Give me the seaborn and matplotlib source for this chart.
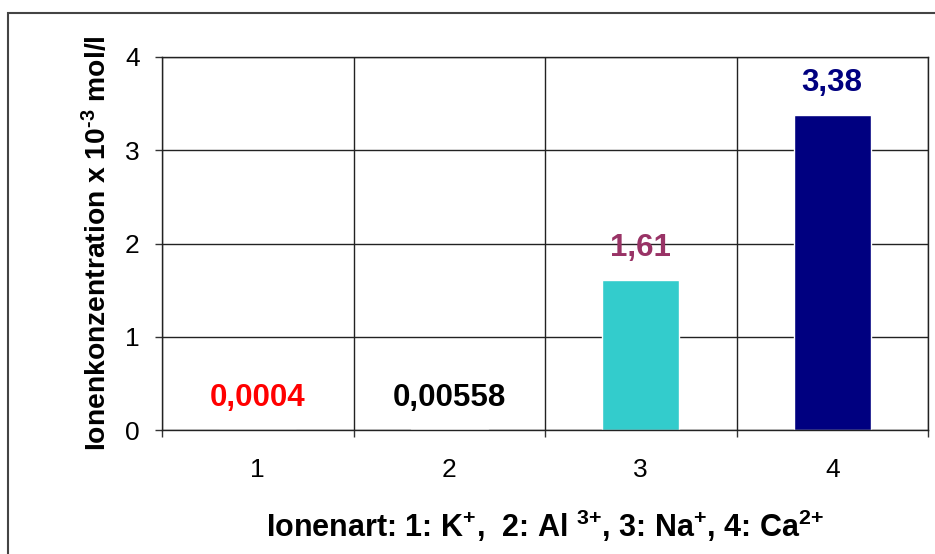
import matplotlib
matplotlib.use("Agg")
import matplotlib.pyplot as plt
from matplotlib.patches import Rectangle
from matplotlib.ticker import FixedLocator
import seaborn as sns
import pandas as pd

categories = ["1", "2", "3", "4"]
values = [0.0004, 0.00558, 1.61, 3.38]
value_labels = ["0,0004", "0,00558", "1,61", "3,38"]
bar_colors = ["#FF0000", "#006633", "#33CCCC", "#000080"]
label_colors = ["#FF0000", "#000000", "#993366", "#000080"]
y_ticks = [0, 1, 2, 3, 4]

sns.set_theme(style="white")
plt.rcParams["font.family"] = ["Liberation Sans", "DejaVu Sans"]
plt.rcParams["mathtext.fontset"] = "custom"
plt.rcParams["mathtext.rm"] = "Liberation Sans:bold"
plt.rcParams["mathtext.bf"] = "Liberation Sans:bold"
plt.rcParams["mathtext.it"] = "Liberation Sans:bold"
plt.rcParams["mathtext.default"] = "bf"
plt.rcParams["text.color"] = "black"
plt.rcParams["axes.labelcolor"] = "black"

df = pd.DataFrame({"cat": categories, "val": values})

fig = plt.figure(figsize=(9.35, 5.54), dpi=100)
ax = fig.add_axes([162/935, 1-430/554, (928-162)/935, (430-57)/554])

sns.barplot(data=df, x="cat", y="val", hue="cat", palette=bar_colors,
            width=0.4, legend=False, ax=ax, saturation=1)

ax.set_xlim(-0.5, 3.5)
ax.set_ylim(0, 4)
ax.set_yticks(y_ticks)
ax.set_yticklabels([str(t) for t in y_ticks])
ax.set_xticks(range(len(categories)))
ax.set_xticklabels(categories)
ax.xaxis.set_minor_locator(FixedLocator([-0.5, 0.5, 1.5, 2.5, 3.5]))
ax.tick_params(axis="x", which="major", length=0, pad=20, labelsize=19, colors="black")
ax.tick_params(axis="x", which="minor", length=5, width=1, direction="out", bottom=True, color="#333333")
ax.tick_params(axis="y", which="major", length=5, width=1, direction="out", left=True,
               pad=11, labelsize=19, colors="black", color="#333333")
for lab in ax.get_xticklabels() + ax.get_yticklabels():
    lab.set_color("black")

ax.grid(False)
ax.yaxis.grid(True, color="#222222", lw=1)
ax.xaxis.grid(True, which="minor", color="#222222", lw=1)
ax.set_axisbelow(True)
for s in ax.spines.values():
    s.set_color("#222222")
    s.set_linewidth(1)

for i, (v, lab, c) in enumerate(zip(values, value_labels, label_colors)):
    ax.annotate(lab, xy=(i, v), xytext=(0, 17), textcoords="offset points",
                ha="center", va="baseline", fontsize=22.5, fontweight="bold", color=c)

ax.set_ylabel(r"Ionenkonzentration x 10$^{\text{-3}}$ mol/l", fontsize=20.3,
              fontweight="bold", labelpad=9)
ax.set_xlabel(r"Ionenart: 1: K$^{{+}}$,  2: Al $^{3{+}}$, 3: Na$^{{+}}$, 4: Ca$^{2{+}}$",
              fontsize=22, fontweight="bold", labelpad=19)

fig.patches.append(Rectangle((8/935, -0.1), 1.2, (554-13)/554 + 0.1,
                             transform=fig.transFigure, fill=False,
                             edgecolor="#444444", lw=1.5))

fig.savefig("out.png", dpi=100)
